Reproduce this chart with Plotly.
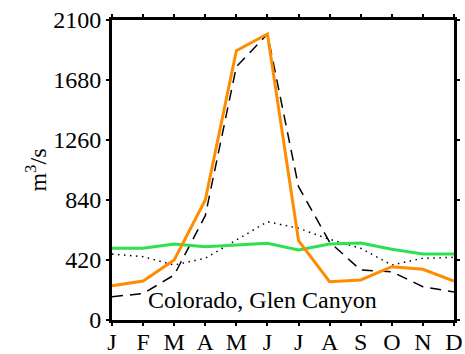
import plotly.graph_objects as go

months = ["J", "F", "M", "A", "M", "J", "J", "A", "S", "O", "N", "D"]
orange_vals = [240, 273, 420, 840, 1885, 2002, 555, 268, 280, 373, 355, 273]
green_vals = [502, 502, 532, 513, 525, 537, 490, 532, 539, 495, 462, 462]
dashed_vals = [163, 185, 315, 730, 1773, 2002, 933, 545, 350, 338, 233, 196]
dotted_vals = [462, 443, 385, 432, 560, 688, 642, 565, 502, 385, 432, 439]
yticks = [0, 420, 840, 1260, 1680, 2100]

x = list(range(len(months)))
fig = go.Figure()
fig.add_trace(go.Scatter(x=x, y=dotted_vals, mode="lines",
                         line=dict(color="black", width=1.5, dash="1.5px,4.5px")))
fig.add_trace(go.Scatter(x=x, y=dashed_vals, mode="lines",
                         line=dict(color="black", width=1.5, dash="11px,7px")))
fig.add_trace(go.Scatter(x=x, y=green_vals, mode="lines",
                         line=dict(color="#2EE04E", width=3)))
fig.add_trace(go.Scatter(x=x, y=orange_vals, mode="lines", xaxis="x2",
                         line=dict(color="#FF8C00", width=3)))

font = dict(family="Liberation Serif", size=24, color="black")
fig.update_layout(
    width=465, height=354,
    margin=dict(l=112, r=11, t=20, b=34, autoexpand=False),
    paper_bgcolor="white", plot_bgcolor="white",
    showlegend=False, font=font,
    xaxis=dict(range=[0, 11], tickvals=x, ticktext=months, ticks="outside",
               ticklen=3, tickwidth=1.5, tickcolor="black", mirror="ticks",
               showline=True, linewidth=3, linecolor="black", showgrid=False,
               zeroline=False, showticklabels=False, automargin=False),
    xaxis2=dict(overlaying="x", matches="x", anchor="free", position=0,
                side="bottom", range=[0, 11], tickvals=x, ticktext=months,
                ticks="outside", ticklen=0, tickcolor="rgba(0,0,0,0)",
                showline=False, showgrid=False, zeroline=False,
                tickfont=font, automargin=False),
    yaxis=dict(range=[0, 2100], tickvals=yticks, ticks="outside",
               ticklen=3, tickwidth=1.5, tickcolor="black", mirror="ticks",
               showline=True, linewidth=3, linecolor="black", showgrid=False,
               zeroline=False, tickfont=font, automargin=True,
               title=dict(text="m<sup>3</sup>/s",
                          font=dict(family="Liberation Serif", size=24, color="black"),
                          standoff=0)),
)
fig.add_annotation(x=1.1, y=140, xref="x", yref="y", text="Colorado, Glen Canyon",
                   showarrow=False, xanchor="left", yanchor="middle", font=font)
fig.write_html("out.html", config={"displayModeBar": False},
               post_script="document.body.style.margin='0';document.body.style.overflow='hidden';")
